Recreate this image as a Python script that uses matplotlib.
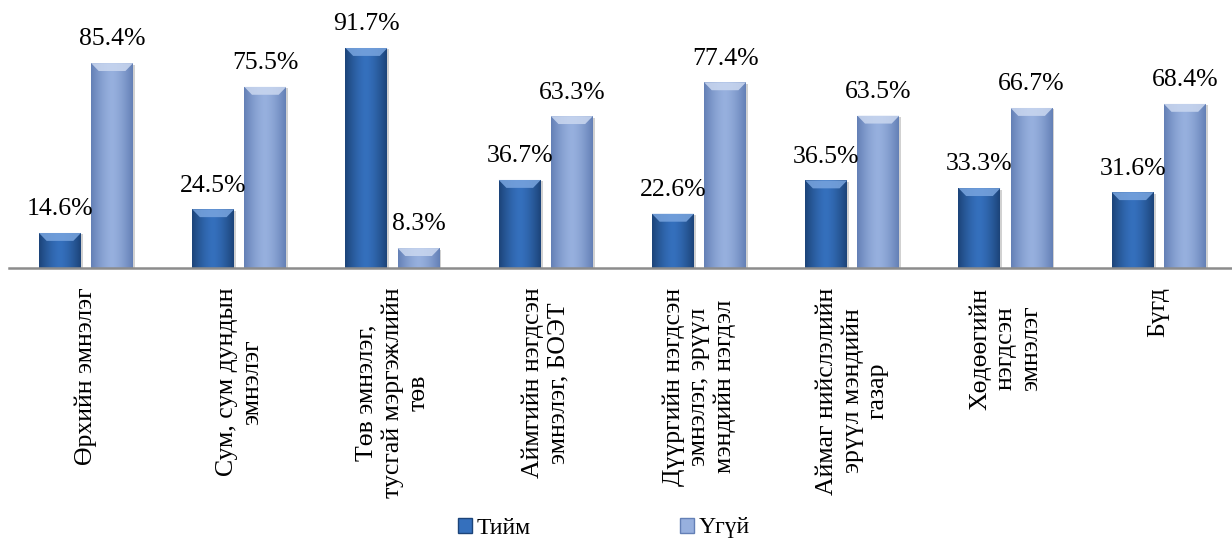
import numpy as np
import matplotlib
matplotlib.use("Agg")
import matplotlib.pyplot as plt
from matplotlib.patches import Polygon, Patch
from matplotlib.colors import to_rgb

plt.rcParams['font.family'] = ['Liberation Serif', 'DejaVu Serif']

categories = [
    "Өрхийн эмнэлэг",
    "Сум, сум дундын\nэмнэлэг",
    "Төв эмнэлэг,\nтусгай мэргэжлийн\nтөв",
    "Аймгийн нэгдсэн\nэмнэлэг, БОЭТ",
    "Дүүргийн нэгдсэн\nэмнэлэг, эрүүл\nмэндийн нэгдэл",
    "Аймаг нийслэлийн\nэрүүл мэндийн\nгазар",
    "Хөдөөгийн\nнэгдсэн\nэмнэлэг",
    "Бүгд",
]
yes_vals = [14.6, 24.5, 91.7, 36.7, 22.6, 36.5, 33.3, 31.6]
no_vals = [85.4, 75.5, 8.3, 63.3, 77.4, 63.5, 66.7, 68.4]
series_names = ["Тийм", "Үгүй"]

# edge colour, centre colour, bevel colour for each series
yes_style = ("#1c4479", "#3570bd", "#79a5df")
no_style = ("#6480b6", "#97b0de", "#cbd8f0")

fig = plt.figure(figsize=(12.32, 5.42), dpi=100)
ax = fig.add_axes([9.4 / 1232, 274 / 542, 1226 / 1232, 268 / 542])

x = np.arange(len(categories))
w = 0.274
off = 0.17


def shade_bars(bars, style):
    edge, mid, bevel = [np.array(to_rgb(c)) for c in style]
    t = np.linspace(0, 1, 64)
    k = 1 - np.abs(2 * t - 1) ** 1.5
    grad = edge[None, :] * (1 - k[:, None]) + mid[None, :] * k[:, None]
    grad = grad[None, :, :]
    for b in bars:
        x0, y0 = b.get_x(), b.get_y()
        bw, bh = b.get_width(), b.get_height()
        # soft shadow to the right
        ax.add_patch(Polygon([[x0 + 0.012, 0], [x0 + bw + 0.012, 0],
                              [x0 + bw + 0.012, bh - 0.6], [x0 + 0.012, bh - 0.6]],
                             closed=True, facecolor="#000000", alpha=0.18,
                             edgecolor="none", zorder=1))
        im = ax.imshow(grad, extent=[x0, x0 + bw, y0, y0 + bh], aspect="auto",
                       zorder=2, interpolation="bilinear")
        im.set_clip_path(b)
        dx, dy = 0.05, min(3.3, bh / 2)
        ax.add_patch(Polygon([[x0, bh], [x0 + bw, bh],
                              [x0 + bw - dx, bh - dy], [x0 + dx, bh - dy]],
                             closed=True, facecolor=bevel, edgecolor="none",
                             alpha=0.85, zorder=3))


b1 = ax.bar(x - off, yes_vals, w, color=yes_style[1], zorder=2)
b2 = ax.bar(x + off, no_vals, w, color=no_style[1], zorder=2)
shade_bars(b1, yes_style)
shade_bars(b2, no_style)

for bars, vals in ((b1, yes_vals), (b2, no_vals)):
    for b, v in zip(bars, vals):
        ax.annotate(f"{v}%", (b.get_x() + b.get_width() / 2, v),
                    xytext=(0, 17), textcoords="offset points",
                    ha="center", va="center", fontsize=18.5)

ax.set_xlim(-0.5, len(categories) - 0.5)
ax.set_ylim(0, 111.7)
ax.set_xticks(x, categories, rotation=90, ha="center", va="top",
              multialignment="center", fontsize=18.5)
ax.tick_params(axis="x", length=0, pad=14)
ax.set_yticks([])
for s in ("top", "right", "left"):
    ax.spines[s].set_visible(False)
ax.spines["bottom"].set_color("#8c8c8c")
ax.spines["bottom"].set_linewidth(1.8)
ax.patch.set_alpha(0)

handles = [Patch(facecolor=yes_style[1], edgecolor=yes_style[0]),
           Patch(facecolor=no_style[1], edgecolor=no_style[0])]
fig.legend(handles, series_names, loc="center left",
           bbox_to_anchor=(458 / 1232, 14 / 542), ncol=2, frameon=False,
           fontsize=17, handlelength=0.6, handleheight=0.6,
           handletextpad=0.2, columnspacing=6.3, borderpad=0,
           borderaxespad=0)

fig.savefig("out.png", dpi=100)
